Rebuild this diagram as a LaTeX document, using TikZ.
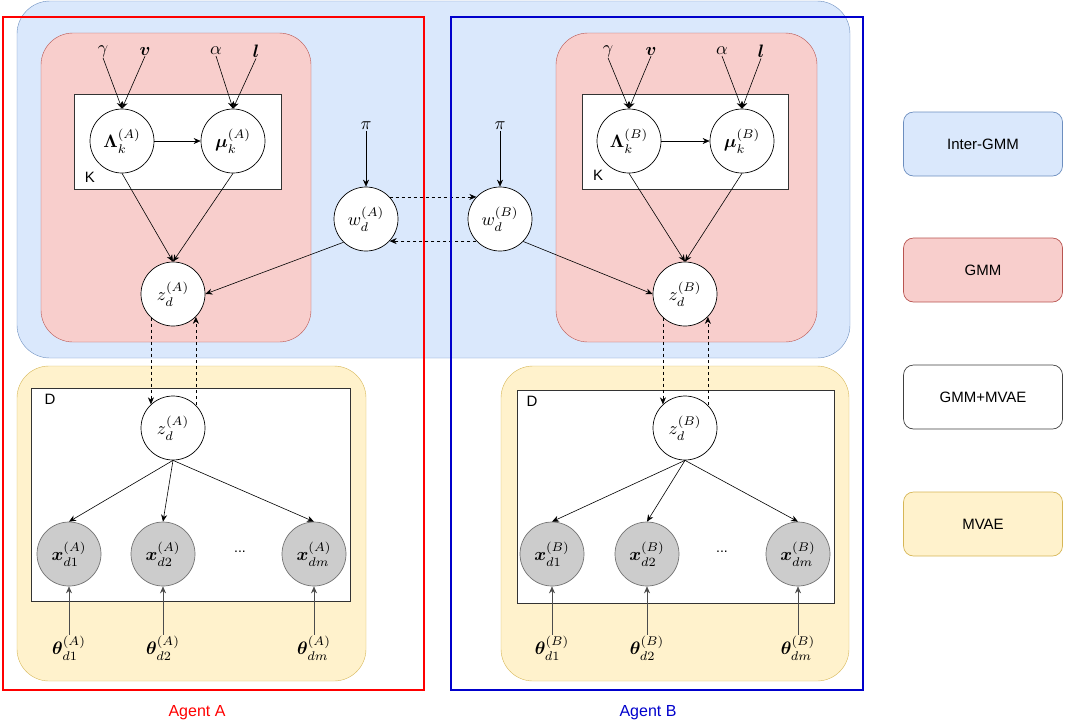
\documentclass[tikz,border=0pt]{standalone}
\usepackage{fix-cm}
\usepackage{fontspec}
\setsansfont{Liberation Sans}
\usepackage{bm}
\usepackage{graphicx}
\usepackage{xcolor}
\usetikzlibrary{arrows.meta}

\definecolor{intercol}{HTML}{DAE8FC}
\definecolor{interline}{HTML}{6C8EBF}
\definecolor{gmmcol}{HTML}{F8CECC}
\definecolor{gmmline}{HTML}{B85450}
\definecolor{mvaecol}{HTML}{FFF2CC}
\definecolor{mvaeline}{HTML}{D6B656}
\definecolor{obscol}{HTML}{CCCCCC}
\definecolor{agentb}{HTML}{0000CC}

\newcommand{\mlab}[1]{\scalebox{1.8}{$#1$}}

\begin{document}
\begin{tikzpicture}[x=1pt, y=-1pt,
    var/.style={circle, draw, fill=white, minimum size=64pt, inner sep=0pt, line width=0.7pt},
    obs/.style={var, fill=obscol, draw=black!55},
    param/.style={inner sep=1pt},
    plate/.style={draw=black!80, line width=0.9pt, fill=white},
    lab/.style={font=\sffamily\fontsize{15}{18}\selectfont},
    legend/.style={draw, rounded corners=10pt, minimum width=159pt, minimum height=64pt,
      line width=0.7pt, font=\sffamily\fontsize{15}{18}\selectfont},
    arr/.style={-{Stealth[length=7pt, width=6pt]}, line width=0.6pt},
    dasharr/.style={arr, dashed}]

        \useasboundingbox (0, 0) rectangle (1065, 724);

        % boxes
        \draw [fill=intercol, draw=interline, rounded corners=33pt] (17, 1) rectangle (850, 358);
        \draw [fill=gmmcol, draw=gmmline, rounded corners=32pt] (41, 33) rectangle (311, 342);
        \draw [fill=gmmcol, draw=gmmline, rounded corners=32pt] (556, 33) rectangle (817, 342);
        \draw [fill=mvaecol, draw=mvaeline, rounded corners=32pt] (17, 366) rectangle (366, 681);
        \draw [fill=mvaecol, draw=mvaeline, rounded corners=32pt] (501, 366) rectangle (849, 681);
        \draw [plate] (74, 94) rectangle (281, 189);
        \draw [plate] (582, 94) rectangle (788, 189);
        \draw [plate] (31, 388) rectangle (350, 601);
        \draw [plate] (517, 390) rectangle (834, 603);
        \node [lab] (kA) at (90, 177) {K};
        \node [lab] (kB) at (598, 175) {K};
        \node [lab] (dA) at (50, 399) {D};
        \node [lab] (dB) at (532, 401) {D};

        % agent A
        \node [param] (gA) at (103, 51) {\mlab{\gamma}};
        \node [param] (vA) at (145, 51) {\mlab{\bm{v}}};
        \node [param] (aA) at (216, 51) {\mlab{\alpha}};
        \node [param] (lA) at (256, 51) {\mlab{\bm{l}}};
        \node [var] (LA) at (122, 141) {\mlab{\bm{\Lambda}^{(A)}_k}};
        \node [var] (mA) at (233, 141) {\mlab{\bm{\mu}^{(A)}_k}};
        \node [var] (zA) at (173, 294) {\mlab{z^{(A)}_d}};
        \node [param] (pA) at (366, 126) {\mlab{\pi}};
        \node [var] (wA) at (366, 219) {\mlab{w^{(A)}_d}};
        \node [var] (zmA) at (173, 428) {\mlab{z^{(A)}_d}};
        \node [obs] (xA1) at (69, 554) {\mlab{\bm{x}^{(A)}_{d1}}};
        \node [obs] (xA2) at (163, 554) {\mlab{\bm{x}^{(A)}_{d2}}};
        \node [obs] (xA3) at (314, 554) {\mlab{\bm{x}^{(A)}_{dm}}};
        \node [font=\sffamily\fontsize{14}{17}\selectfont] (eA) at (240, 552) {...};
        \node [param] (tA1) at (69, 648) {\mlab{\bm{\theta}^{(A)}_{d1}}};
        \node [param] (tA2) at (163, 648) {\mlab{\bm{\theta}^{(A)}_{d2}}};
        \node [param] (tA3) at (314, 648) {\mlab{\bm{\theta}^{(A)}_{dm}}};

        % agent B
        \node [param] (gB) at (608, 51) {\mlab{\gamma}};
        \node [param] (vB) at (651, 51) {\mlab{\bm{v}}};
        \node [param] (aB) at (722, 51) {\mlab{\alpha}};
        \node [param] (lB) at (761, 51) {\mlab{\bm{l}}};
        \node [var] (LB) at (629, 141) {\mlab{\bm{\Lambda}^{(B)}_k}};
        \node [var] (mB) at (742, 141) {\mlab{\bm{\mu}^{(B)}_k}};
        \node [var] (zB) at (685, 294) {\mlab{z^{(B)}_d}};
        \node [param] (pB) at (500, 126) {\mlab{\pi}};
        \node [var] (wB) at (500, 219) {\mlab{w^{(B)}_d}};
        \node [var] (zmB) at (685, 428) {\mlab{z^{(B)}_d}};
        \node [obs] (xB1) at (552, 554) {\mlab{\bm{x}^{(B)}_{d1}}};
        \node [obs] (xB2) at (647, 554) {\mlab{\bm{x}^{(B)}_{d2}}};
        \node [obs] (xB3) at (798, 554) {\mlab{\bm{x}^{(B)}_{dm}}};
        \node [font=\sffamily\fontsize{14}{17}\selectfont] (eB) at (722, 552) {...};
        \node [param] (tB1) at (552, 648) {\mlab{\bm{\theta}^{(B)}_{d1}}};
        \node [param] (tB2) at (647, 648) {\mlab{\bm{\theta}^{(B)}_{d2}}};
        \node [param] (tB3) at (798, 648) {\mlab{\bm{\theta}^{(B)}_{dm}}};

        % edges
        \foreach \s in {A, B}
        {
        \draw [arr] (g\s.south) -- (L\s.north);
        \draw [arr] (v\s.south) -- (L\s.north);
        \draw [arr] (a\s.south) -- (m\s.north);
        \draw [arr] (l\s.south) -- (m\s.north);
        \draw [arr] (L\s) -- (m\s);
        \draw [arr] (L\s.south) -- (z\s.north);
        \draw [arr] (m\s.south) -- (z\s.north);
        \draw [arr] (p\s) -- (w\s);
        \draw [dasharr] (z\s.-133) -- (zm\s.133);
        \draw [dasharr] (zm\s.45) -- (z\s.-45);
        \foreach \j in {1, 2, 3}
        {
        \draw [arr] (zm\s.south) -- (x\s\j.north);
        \draw [arr, black!70] (t\s\j.north) -- (x\s\j.south);
        }
        }
        \draw [arr] (wA.226) -- (zA.east);
        \draw [arr] (wB.316) -- (zB.west);
        \draw [dasharr] (wA.43) -- (wB.137);
        \draw [dasharr] (wB.223) -- (wA.317);

        % agents
        \draw [line width=2.6pt, red] (3, 17) rectangle (424, 690);
        \draw [line width=2.6pt, agentb] (451, 17) rectangle (863, 690);
        \node [font=\sffamily\fontsize{16}{19}\selectfont, red] (agA) at (197, 713) {Agent A};
        \node [font=\sffamily\fontsize{16}{19}\selectfont, agentb] (agB) at (648, 713) {Agent B};

        % legend
        \node [legend, fill=intercol, draw=interline] (l1) at (983, 144) {Inter-GMM};
        \node [legend, fill=gmmcol, draw=gmmline] (l2) at (983, 270) {GMM};
        \node [legend, fill=white, draw=black!75] (l3) at (983, 397) {GMM+MVAE};
        \node [legend, fill=mvaecol, draw=mvaeline] (l4) at (983, 524) {MVAE};

      \end{tikzpicture}
\end{document}
